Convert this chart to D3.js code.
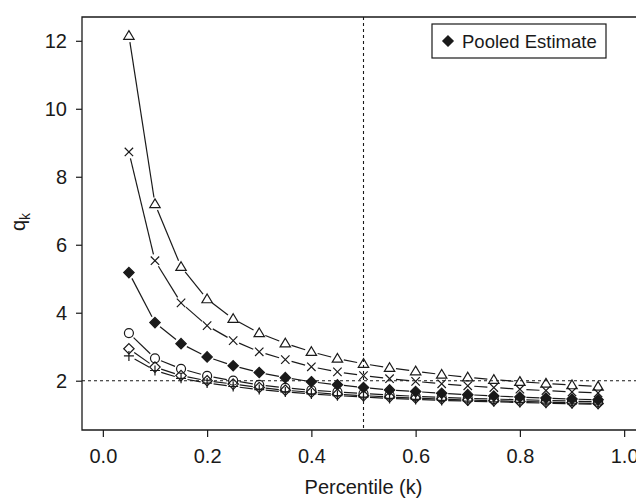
<!DOCTYPE html>
<html><head><meta charset="utf-8">
<script src="https://cdn.jsdelivr.net/npm/d3@7"></script>
<style>body{margin:0;background:#fff}svg{display:block}text{font-family:"Liberation Sans",Arial,sans-serif}</style>
</head><body>
<svg id="c" width="636" height="499"></svg>
<script>
const kValues = [0.05,0.10,0.15,0.20,0.25,0.30,0.35,0.40,0.45,0.50,0.55,0.60,0.65,0.70,0.75,0.80,0.85,0.90,0.95];
const triangleSeries = [12.15,7.20,5.35,4.40,3.82,3.40,3.10,2.85,2.65,2.50,2.38,2.28,2.18,2.10,2.03,1.97,1.92,1.87,1.83];
const crossSeries    = [8.73,5.53,4.29,3.62,3.18,2.85,2.62,2.41,2.26,2.15,2.06,1.98,1.91,1.85,1.80,1.75,1.71,1.67,1.64];
const pooledSeries   = [5.18,3.71,3.09,2.70,2.44,2.24,2.09,1.97,1.88,1.80,1.73,1.68,1.63,1.59,1.55,1.52,1.49,1.46,1.44];
const circleSeries   = [3.40,2.66,2.35,2.14,2.00,1.88,1.79,1.72,1.67,1.62,1.58,1.54,1.51,1.48,1.46,1.44,1.42,1.40,1.38];
const diamondSeries  = [2.94,2.40,2.15,2.00,1.90,1.80,1.72,1.66,1.60,1.56,1.52,1.49,1.46,1.43,1.41,1.39,1.37,1.35,1.33];
const plusSeries     = [2.73,2.30,2.07,1.93,1.83,1.74,1.67,1.61,1.56,1.52,1.48,1.45,1.42,1.40,1.38,1.36,1.34,1.32,1.31];
const xTicks = [0.0,0.2,0.4,0.6,0.8,1.0];
const yTicks = [2,4,6,8,10,12];
const legendLabel = "Pooled Estimate";

const series = [
  {v: triangleSeries, s: "triangle"},
  {v: crossSeries, s: "cross"},
  {v: pooledSeries, s: "fdiamond"},
  {v: circleSeries, s: "circle"},
  {v: diamondSeries, s: "diamond"},
  {v: plusSeries, s: "plus"}
];

const svg = d3.select("#c");
const L = 82, R = 645, T = 17, B = 430;
const x = d3.scaleLinear().domain([-0.04, 1.04]).range([L, R]);
const y = d3.scaleLinear().domain([0.55, 12.70]).range([B, T]);
const ink = "#1a1a1a";

function marker(g, s, px, py) {
  if (s === "triangle") {
    const h = 4.6;
    g.append("path").attr("d", `M${px},${py-h-0.5}L${px+h+0.6},${py+h-1}L${px-h-0.6},${py+h-1}Z`)
      .attr("fill", "none").attr("stroke", ink).attr("stroke-width", 1.2);
  } else if (s === "cross") {
    const h = 4.2;
    g.append("path").attr("d", `M${px-h},${py-h}L${px+h},${py+h}M${px-h},${py+h}L${px+h},${py-h}`)
      .attr("stroke", ink).attr("stroke-width", 1.2);
  } else if (s === "plus") {
    const h = 5;
    g.append("path").attr("d", `M${px-h},${py}L${px+h},${py}M${px},${py-h}L${px},${py+h}`)
      .attr("stroke", ink).attr("stroke-width", 1.2);
  } else if (s === "circle") {
    g.append("circle").attr("cx", px).attr("cy", py).attr("r", 4.5)
      .attr("fill", "none").attr("stroke", ink).attr("stroke-width", 1.2);
  } else if (s === "diamond" || s === "fdiamond") {
    const h = 5.2;
    g.append("path").attr("d", `M${px},${py-h}L${px+h},${py}L${px},${py+h}L${px-h},${py}Z`)
      .attr("fill", s === "fdiamond" ? ink : "none").attr("stroke", ink).attr("stroke-width", 1.2);
  }
}

// reference lines
svg.append("line").attr("x1", L).attr("x2", 636).attr("y1", y(2)).attr("y2", y(2))
  .attr("stroke", ink).attr("stroke-width", 1.1).attr("stroke-dasharray", "3,3");
svg.append("line").attr("x1", x(0.5)).attr("x2", x(0.5)).attr("y1", T).attr("y2", B)
  .attr("stroke", ink).attr("stroke-width", 1.1).attr("stroke-dasharray", "3,3");

// series lines with gaps between markers
const gap = 6.5;
const gl = svg.append("g");
series.forEach(sr => {
  for (let i = 0; i < kValues.length - 1; i++) {
    const x1 = x(kValues[i]), y1 = y(sr.v[i]), x2 = x(kValues[i+1]), y2 = y(sr.v[i+1]);
    const dx = x2 - x1, dy = y2 - y1, len = Math.hypot(dx, dy);
    if (len <= 2 * gap) continue;
    const ux = dx / len, uy = dy / len;
    gl.append("line").attr("x1", x1 + ux*gap).attr("y1", y1 + uy*gap)
      .attr("x2", x2 - ux*gap).attr("y2", y2 - uy*gap)
      .attr("stroke", ink).attr("stroke-width", 1.2);
  }
});
const gm = svg.append("g");
series.forEach(sr => {
  sr.v.forEach((v, i) => marker(gm, sr.s, x(kValues[i]), y(v)));
});

// box
svg.append("path").attr("d", `M${R},${T}L${L},${T}L${L},${B}L${R},${B}`)
  .attr("fill", "none").attr("stroke", ink).attr("stroke-width", 1.3);

// axes
const xa = svg.append("g").attr("transform", `translate(0,${B})`)
  .call(d3.axisBottom(x).tickValues(xTicks).tickFormat(d3.format(".1f")).tickSize(7).tickPadding(12));
const ya = svg.append("g").attr("transform", `translate(${L},0)`)
  .call(d3.axisLeft(y).tickValues(yTicks).tickSize(6).tickPadding(9));
[xa, ya].forEach(a => {
  a.select(".domain").remove();
  a.selectAll("line").attr("stroke", ink).attr("stroke-width", 1.2);
  a.selectAll("text").attr("fill", ink).style("font-size", "20px");
});

// axis titles
svg.append("text").attr("x", x(0.5)).attr("y", 494).attr("text-anchor", "middle")
  .attr("fill", ink).style("font-size", "20px").text("Percentile (k)");
const yl = svg.append("text").attr("transform", `translate(25,222) rotate(-90)`)
  .attr("text-anchor", "middle").attr("fill", ink).style("font-size", "20px");
yl.append("tspan").text("q");
yl.append("tspan").attr("dy", 5).style("font-size", "14px").text("k");

// legend
const lg = svg.append("g");
lg.append("rect").attr("x", 432).attr("y", 24).attr("width", 174).attr("height", 34)
  .attr("fill", "#fff").attr("stroke", ink).attr("stroke-width", 1.2);
marker(lg, "fdiamond", 448, 41);
lg.append("text").attr("x", 462).attr("y", 47.5).attr("fill", ink).style("font-size", "18.5px").text(legendLabel);
</script>
</body></html>
